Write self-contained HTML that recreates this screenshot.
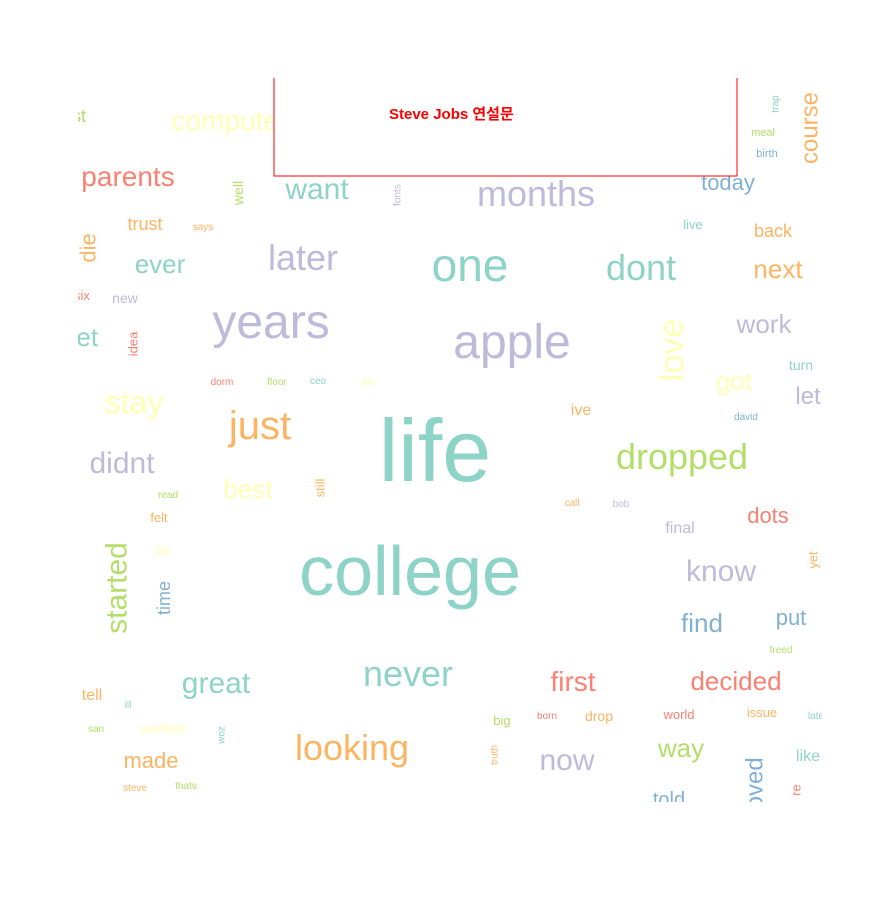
<!DOCTYPE html>
<html><head><meta charset="utf-8">
<style>html,body{margin:0;padding:0;background:#fff;}svg text{font-family:"Liberation Sans","Noto Sans CJK KR",sans-serif;}</style>
</head><body>
<svg id="chart" width="871" height="900" viewBox="0 0 871 900" xmlns="http://www.w3.org/2000/svg">
<defs><clipPath id="clip"><rect x="78" y="78" width="744" height="724"/></clipPath></defs>
<rect width="871" height="900" fill="#fff"/>
<g id="words" clip-path="url(#clip)"></g>
<g>
<rect x="274" y="60" width="463" height="116" fill="#fff" stroke="none"/>
<polyline points="274,78 274,176 737,176 737,78" fill="none" stroke="#ff0000" stroke-width="1"/>
<text x="389" y="119" font-size="15" font-weight="bold" fill="#ff0000">Steve Jobs 연설문</text>
</g>
</svg>
<script>
const words = ["life","college","apple","years","one","dont","months","later","want","computer","parents","just","stay","didnt","best","dropped","love","work","next","back","today","course","got","let","turn","david","ive","live","trap","meal","birth","ever","trust","says","well","fonts","die","six","new","get","last","idea","dorm","floor","ceo","list","read","felt","bit","still","started","time","great","never","looking","tell","ill","san","wanted","woz","made","steve","thats","call","bob","final","dots","know","yet","find","put","freed","first","decided","big","born","drop","world","issue","late","truth","now","way","like","loved","told","re"];
const sizes = [88,70,48,48,46,36,36,36,30,28,28,40,32,30,26,36,34,26,26,18,22,24,26,24,14,10,16,13,10,11,11,26,18,10,14,10,22,13,14,26,18,13,10,10,10,10,10,13,13,13,30,18,30,36,36,16,10,10,14,10,22,10,10,10,10,16,22,30,13,26,22,10,28,26,13,10,14,13,13,10,10,30,26,16,24,20,13];
const colorIdx = [0,0,2,2,0,0,2,2,0,1,3,5,1,2,1,6,1,2,5,5,4,5,1,2,0,4,5,0,0,6,4,0,5,5,6,2,5,3,2,0,6,3,3,6,0,1,6,5,1,5,6,4,0,0,5,5,0,6,1,0,5,5,6,5,2,2,3,2,5,4,4,6,3,3,6,3,5,3,5,0,5,2,6,0,4,4,3];
const rotated = ["love","course","trap","well","fonts","die","idea","still","started","time","woz","yet","truth","loved","re"];
const palette = ["#8DD3C7","#FFFFB3","#BEBADA","#FB8072","#80B1D3","#FDB462","#B3DE69"];
const layout = [[435,481],[410,595],[512,358],[271,338],[470,281],[641,280],[536,206],[303,270],[317,199],[230,130],[128,186],[260,439],[134,413],[122,473],[248,498],[682,469],[672,350],[764,333],[778,278],[773,237],[728,190],[810,128],[734,390],[808,404],[801,370],[746,420],[581,415],[693,229],[776,104],[763,136],[767,157],[160,273],[145,230],[203,230],[238,193],[398,195],[88,248],[82,300],[125,303],[80,346],[72,122],[133,344],[222,385],[277,385],[318,384],[368,385],[168,498],[159,522],[163,555],[320,488],[117,588],[164,598],[216,693],[408,686],[352,760],[92,700],[128,708],[96,732],[163,733],[222,735],[151,768],[135,791],[186,789],[572,506],[621,507],[680,533],[768,523],[721,581],[813,560],[702,632],[791,625],[781,653],[573,691],[736,690],[502,725],[547,719],[599,721],[679,719],[762,717],[816,719],[495,755],[567,770],[681,757],[808,761],[755,786],[669,806],[796,790]];
const g = document.getElementById('words');
const NS = "http://www.w3.org/2000/svg";
words.forEach((w,i)=>{
  const t = document.createElementNS(NS,'text');
  
  
  const [x,y] = layout[i];
  t.setAttribute('font-size', sizes[i]);
  t.setAttribute('fill', palette[colorIdx[i]]);
  t.setAttribute('text-anchor','middle');
  if (rotated.includes(w)) {
    t.setAttribute('x',0); t.setAttribute('y',0);
    t.setAttribute('dominant-baseline','central');
    t.setAttribute('transform','translate('+x+','+y+') rotate(-90)');
  } else {
    t.setAttribute('x',x); t.setAttribute('y',y);
  }
  t.textContent = w;
  g.appendChild(t);
});
</script>
</body></html>
